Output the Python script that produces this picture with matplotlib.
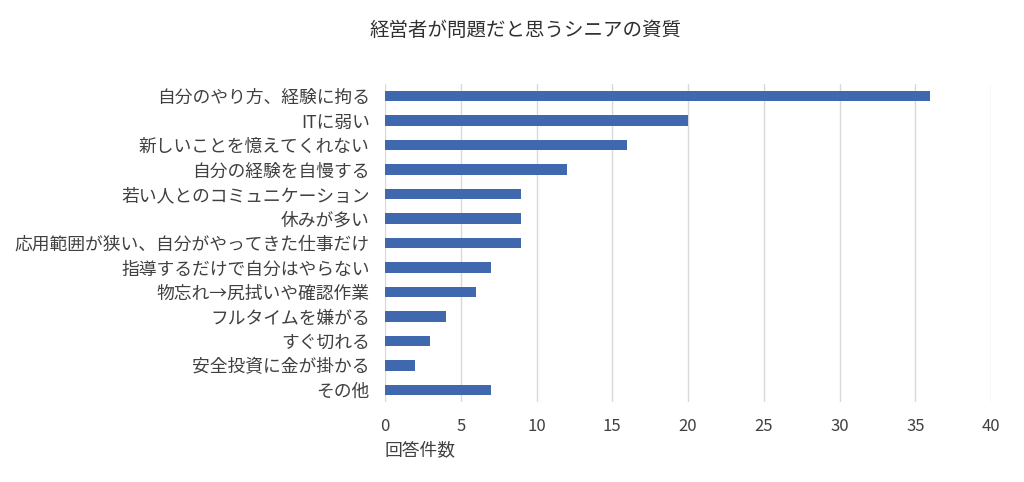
import matplotlib
matplotlib.use("Agg")
import matplotlib.pyplot as plt

plt.rcParams['font.family'] = ['Noto Sans CJK JP', 'DejaVu Sans']

categories = [
    "自分のやり方、経験に拘る",
    "ITに弱い",
    "新しいことを憶えてくれない",
    "自分の経験を自慢する",
    "若い人とのコミュニケーション",
    "休みが多い",
    "応用範囲が狭い、自分がやってきた仕事だけ",
    "指導するだけで自分はやらない",
    "物忘れ→尻拭いや確認作業",
    "フルタイムを嫌がる",
    "すぐ切れる",
    "安全投資に金が掛かる",
    "その他",
]
values = [36, 20, 16, 12, 9, 9, 9, 7, 6, 4, 3, 2, 7]
xticks = [0, 5, 10, 15, 20, 25, 30, 35, 40]
title = "経営者が問題だと思うシニアの資質"
xlabel = "回答件数"

text_color = "#404040"
bar_color = "#4068AE"

fig = plt.figure(figsize=(10.24, 4.82), dpi=100)
ax = fig.add_axes([385/1024, 1 - 402.25/482, (991-385)/1024, 318.5/482])

y = list(range(len(categories)))
ax.barh(y, values, height=0.42, color=bar_color, zorder=3)
ax.set_ylim(len(categories) - 0.5, -0.5)
ax.set_xlim(0, 40)
ax.set_xticks(xticks)
ax.set_xticklabels([str(t) for t in xticks], fontsize=12, color=text_color)
ax.set_yticks(y)
ax.set_yticklabels(categories, fontsize=12.8, color=text_color)
ax.tick_params(axis='y', length=0, pad=11)
ax.tick_params(axis='x', length=0, pad=11)
ax.grid(axis='x', color='#D9D9D9', linewidth=1, zorder=0)
for s in ax.spines.values():
    s.set_visible(False)

fig.text(526/1024, 1 - 30/482, title, ha='center', va='center', fontsize=14, color='#303030')
fig.text(385/1024, 1 - 450/482, xlabel, ha='left', va='center', fontsize=12.8, color=text_color)

fig.savefig("out.png", dpi=100)
